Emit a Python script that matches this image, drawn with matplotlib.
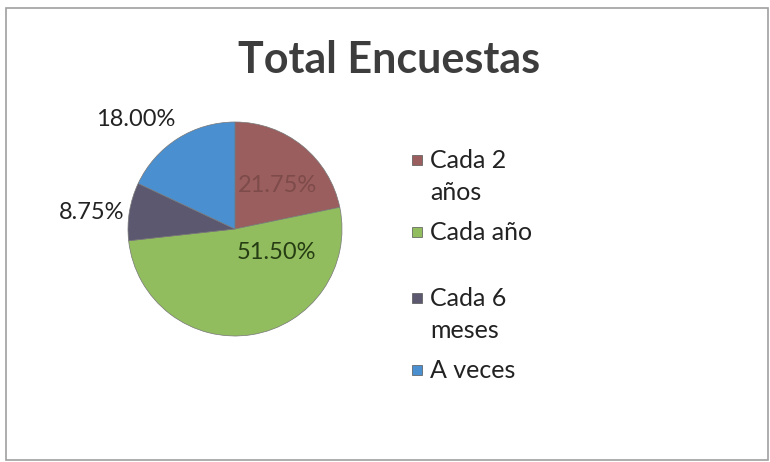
import matplotlib
matplotlib.use("Agg")
import matplotlib.pyplot as plt
from matplotlib.patches import Rectangle

# Survey frequency shares (percent)
categories = ["Cada 2\naños", "Cada año", "Cada 6\nmeses", "A veces"]
shares = [21.75, 51.50, 8.75, 18.00]
colors = ["#9b5e5e", "#92bd5e", "#5c5870", "#4a8fd0"]
title = "Total Encuestas"

FONT = "Lato"
W, H = 770, 462
fig = plt.figure(figsize=(W / 100, H / 100), dpi=100)
fig.patch.set_facecolor("white")

# chart frame
fig.add_artist(Rectangle((6 / W, 2 / H), 762 / W, (H - 10) / H, transform=fig.transFigure,
                         fill=False, edgecolor="#a0a0a0", linewidth=1.2))

# pie axes: centre (235, 229) px, radius 107 px
cx, cy, r = 235, 229, 107
ax = fig.add_axes([(cx - r) / W, (H - cy - r) / H, 2 * r / W, 2 * r / H])
wedges, _ = ax.pie(shares, colors=colors, startangle=90, counterclock=False,
                   wedgeprops=dict(linewidth=0.5, edgecolor="#777777"), radius=1.0)
ax.set_xlim(-1, 1)
ax.set_ylim(-1, 1)
ax.set_aspect("equal")
ax.axis("off")

# data labels (offsets in pie units)
label_pos = [(0.40, 0.41), (0.39, -0.22), (-1.34, 0.15), (-0.93, 1.02)]
label_col = ["#7d4b4a", "#263d14", "#222222", "#222222"]
for v, (lx, ly), c in zip(shares, label_pos, label_col):
    ax.text(lx, ly, f"{v:.2f}%", ha="center", va="center", fontsize=17,
            family=FONT, color=c, clip_on=False)

# title
fig.text(389 / W, 1 - 60 / H, title, ha="center", va="center", fontsize=31,
         fontweight="bold", family=FONT, color="#3d3d3d")

# legend: square markers aligned with the first line of each entry
entry_y = [160, 232, 298, 370]
for name, col, y in zip(categories, colors, entry_y):
    fig.add_artist(Rectangle((412 / W, 1 - (y + 5) / H), 10 / W, 10 / H,
                             transform=fig.transFigure, facecolor=col,
                             edgecolor="#555555", linewidth=0.5))
    for k, line in enumerate(name.split("\n")):
        fig.text(430 / W, 1 - (y + 33 * k) / H, line, ha="left", va="center",
                 fontsize=18, family=FONT, color="#222222")

fig.savefig("out.png", dpi=100)
